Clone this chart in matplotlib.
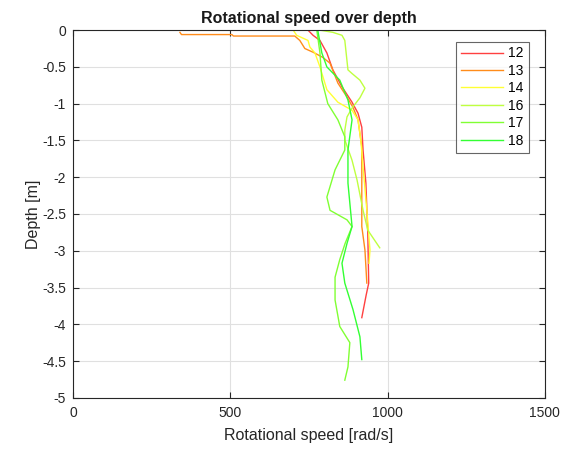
import matplotlib.pyplot as plt

plt.rcParams['font.family'] = ['Liberation Sans', 'DejaVu Sans']

# depth [m] and rotational speed [rad/s] per run
d12 = [0, -0.07, -0.14, -0.31, -0.54, -0.77, -0.98, -1.13, -1.32, -1.63, -2.08, -2.76, -3.44, -3.6, -3.91]
v12 = [747, 763, 785, 807, 826, 855, 887, 906, 918, 922, 931, 937, 940, 932, 918]

d13 = [-0.03, -0.06, -0.06, -0.08, -0.08, -0.14, -0.25, -0.3, -0.37, -0.45, -0.72, -0.91, -1.05, -1.22, -1.59, -2.67, -2.99, -3.44]
v13 = [340, 345, 505, 510, 705, 721, 737, 763, 794, 817, 842, 871, 890, 906, 918, 918, 928, 934]

d14 = [0, -0.07, -0.14, -0.23, -0.31, -0.5, -0.81, -0.98, -1.09, -1.22, -1.5, -1.86, -2.45, -2.99, -3.17]
v14 = [700, 711, 747, 753, 769, 785, 807, 842, 887, 906, 915, 922, 934, 944, 941]

d16 = [0, -0.03, -0.07, -0.14, -0.54, -0.59, -0.68, -0.79, -0.92, -1.06, -1.18, -1.36, -1.49, -1.77, -2.04, -2.45, -2.72, -2.96]
v16 = [785, 826, 855, 864, 874, 887, 912, 928, 912, 887, 871, 864, 864, 887, 903, 922, 937, 975]

d17 = [0, -0.31, -0.68, -1.0, -1.22, -1.45, -1.63, -1.9, -2.27, -2.45, -2.58, -2.67, -2.9, -3.12, -3.36, -3.67, -4.03, -4.25, -4.58, -4.76]
v17 = [775, 785, 791, 810, 842, 864, 864, 833, 807, 817, 871, 887, 865, 848, 833, 833, 848, 880, 874, 864]

d18 = [0, -0.31, -0.5, -0.68, -0.95, -1.22, -1.63, -2.08, -2.67, -2.9, -3.17, -3.44, -3.8, -4.17, -4.48]
v18 = [778, 791, 807, 848, 874, 887, 874, 874, 887, 871, 855, 864, 890, 912, 918]

runs = ['12', '13', '14', '16', '17', '18']
colors = ['#ff4040', '#ff8c1a', '#ffff33', '#bfff40', '#80ff33', '#33ff33']

fig = plt.figure(figsize=(5.7, 4.5), dpi=100)
ax = fig.add_axes([0.128, 0.116, 0.828, 0.817])

data = [(v12, d12), (v13, d13), (v14, d14), (v16, d16), (v17, d17), (v18, d18)]
for (v, d), name, c in zip(data, runs, colors):
    ax.plot(v, d, color=c, lw=1.0, label=name)

ax.set_xlim(0, 1500)
ax.set_ylim(-5, 0)
ax.set_xticks([0, 500, 1000, 1500])
ax.set_yticks([0, -0.5, -1, -1.5, -2, -2.5, -3, -3.5, -4, -4.5, -5])
ax.set_yticklabels(['0', '-0.5', '-1', '-1.5', '-2', '-2.5', '-3', '-3.5', '-4', '-4.5', '-5'])
ax.grid(True, color='#e0e0e0', lw=0.8)
ax.set_axisbelow(True)
ax.tick_params(direction='in', top=True, right=True, labelsize=10, colors='#262626', length=4)
ax.tick_params(axis='x', pad=6)
ax.tick_params(axis='y', pad=5)
for s in ax.spines.values():
    s.set_color('#262626')
    s.set_linewidth(0.8)

ax.set_title('Rotational speed over depth', fontsize=11.5, fontweight='bold', color='#1a1a1a', pad=5)
ax.set_xlabel('Rotational speed [rad/s]', fontsize=11.5, color='#262626', labelpad=6)
ax.set_ylabel('Depth [m]', fontsize=11.5, color='#262626', labelpad=1)

leg = ax.legend(loc='upper right', bbox_to_anchor=(0.98, 0.988), fontsize=10, fancybox=False,
                edgecolor='#404040', handlelength=3.0, handletextpad=0.4, labelspacing=0.25,
                borderpad=0.35)
leg.get_frame().set_linewidth(0.8)

fig.savefig('out.png', dpi=100)
